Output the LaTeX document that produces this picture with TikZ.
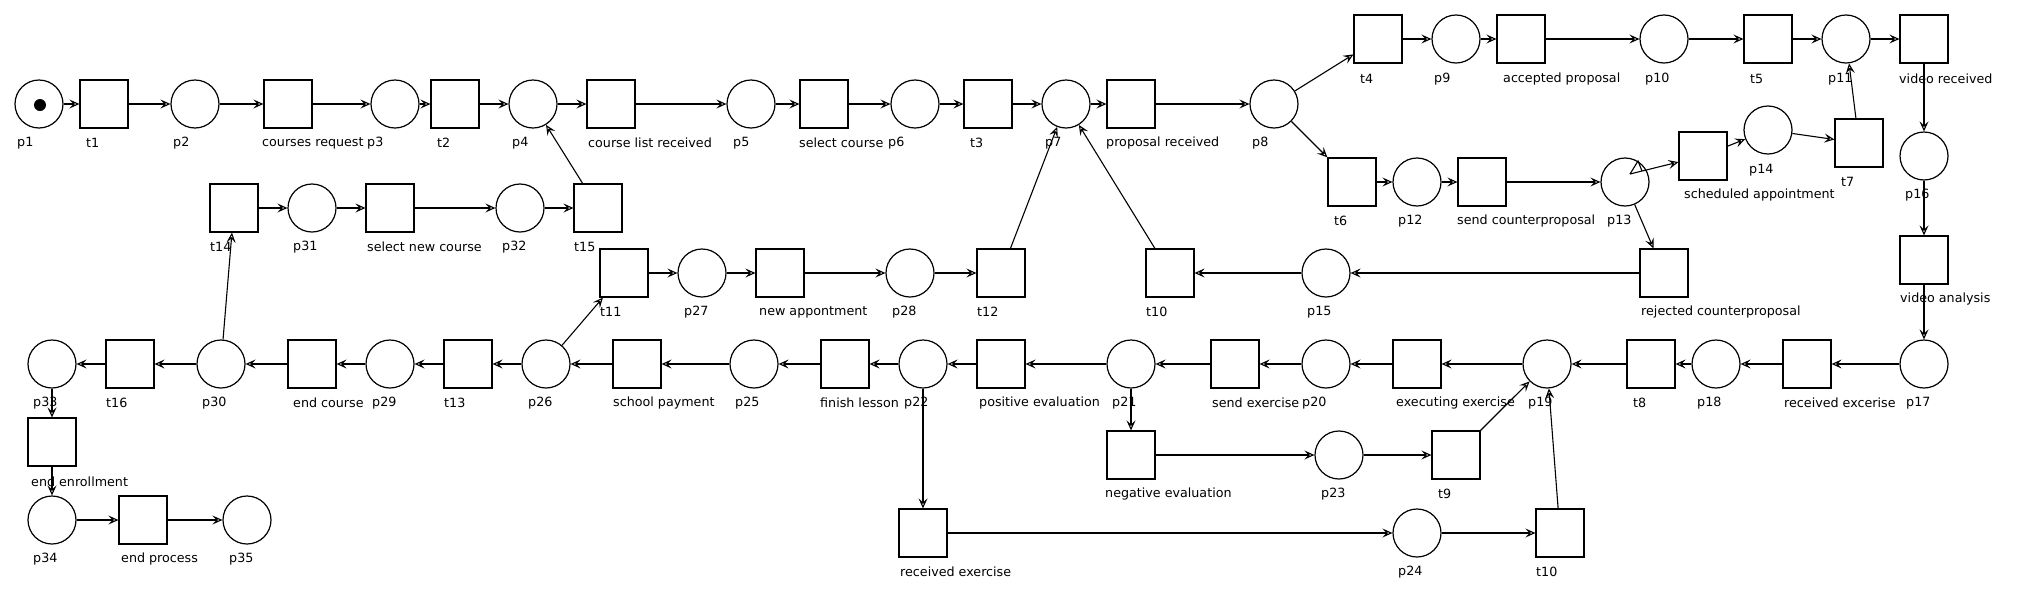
\documentclass[tikz,border=0pt]{standalone}
\usepackage{fontspec}
\setmainfont{DejaVu Sans}
\usetikzlibrary{arrows.meta}
\begin{document}
\begin{tikzpicture}[x=1pt,y=-1pt,
  pl/.style={circle, draw, minimum size=48pt, inner sep=0pt, line width=1.2pt},
  tr/.style={rectangle, draw, minimum size=48pt, inner sep=0pt, line width=1.2pt},
  lbl/.style={anchor=west, inner sep=0pt, font=\fontsize{12.7}{15}\selectfont},
  arc/.style={-{Stealth[open,length=10pt,width=9pt,inset=4pt]}, line width=1.1pt},
  tok/.style={circle, fill=black, minimum size=12pt, inner sep=0pt}]
\useasboundingbox (0,0) rectangle (2017,600);
% ---- row 1
\node[pl] (p1) at (39,104) {};
\node[tok] (tk) at (40,105) {};
\node[tr] (t1) at (104,104) {};
\node[pl] (p2) at (195,104) {};
\node[tr] (cr) at (288,104) {};
\node[pl] (p3) at (395,104) {};
\node[tr] (t2) at (455,104) {};
\node[pl] (p4) at (533,104) {};
\node[tr] (clr) at (611,104) {};
\node[pl] (p5) at (751,104) {};
\node[tr] (sc) at (824,104) {};
\node[pl] (p6) at (915,104) {};
\node[tr] (t3) at (988,104) {};
\node[pl] (p7) at (1066,104) {};
\node[tr] (pr) at (1131,104) {};
\node[pl] (p8) at (1274,104) {};
% ---- top row
\node[tr] (t4) at (1378,39) {};
\node[pl] (p9) at (1456,39) {};
\node[tr] (ap) at (1521,39) {};
\node[pl] (p10) at (1664,39) {};
\node[tr] (t5) at (1768,39) {};
\node[pl] (p11) at (1846,39) {};
\node[tr] (vr) at (1924,39) {};
% ---- counterproposal branch
\node[tr] (t6) at (1352,182) {};
\node[pl] (p12) at (1417,182) {};
\node[tr] (scp) at (1482,182) {};
\node[pl] (p13) at (1625,182) {};
\node[tr] (sa) at (1703,156) {};
\node[pl] (p14) at (1768,130) {};
\node[tr] (t7) at (1859,143) {};
\node[pl] (p16) at (1924,156) {};
\node[tr] (va) at (1924,260) {};
% ---- new course row
\node[tr] (t14) at (234,208) {};
\node[pl] (p31) at (312,208) {};
\node[tr] (snc) at (390,208) {};
\node[pl] (p32) at (520,208) {};
\node[tr] (t15) at (598,208) {};
% ---- row 3
\node[tr] (t11) at (624,273) {};
\node[pl] (p27) at (702,273) {};
\node[tr] (na) at (780,273) {};
\node[pl] (p28) at (910,273) {};
\node[tr] (t12) at (1001,273) {};
\node[tr] (t10a) at (1170,273) {};
\node[pl] (p15) at (1326,273) {};
\node[tr] (rc) at (1664,273) {};
% ---- row 4
\node[pl] (p33) at (52,364) {};
\node[tr] (t16) at (130,364) {};
\node[pl] (p30) at (221,364) {};
\node[tr] (ec) at (312,364) {};
\node[pl] (p29) at (390,364) {};
\node[tr] (t13) at (468,364) {};
\node[pl] (p26) at (546,364) {};
\node[tr] (spay) at (637,364) {};
\node[pl] (p25) at (754,364) {};
\node[tr] (fl) at (845,364) {};
\node[pl] (p22) at (923,364) {};
\node[tr] (pe) at (1001,364) {};
\node[pl] (p21) at (1131,364) {};
\node[tr] (se) at (1235,364) {};
\node[pl] (p20) at (1326,364) {};
\node[tr] (ee) at (1417,364) {};
\node[pl] (p19) at (1547,364) {};
\node[tr] (t8) at (1651,364) {};
\node[pl] (p18) at (1716,364) {};
\node[tr] (rex) at (1807,364) {};
\node[pl] (p17) at (1924,364) {};
% ---- end
\node[tr] (een) at (52,442) {};
\node[pl] (p34) at (52,520) {};
\node[tr] (ep) at (143,520) {};
\node[pl] (p35) at (247,520) {};
% ---- negative / received
\node[tr] (ne) at (1131,455) {};
\node[pl] (p23) at (1339,455) {};
\node[tr] (t9) at (1456,455) {};
\node[tr] (rexe) at (923,533) {};
\node[pl] (p24) at (1417,533) {};
\node[tr] (t10b) at (1560,533) {};
% ---- labels
\node[lbl] (lp1) at (17,143) {p1};
\node[lbl] (lt1) at (86,143) {t1};
\node[lbl] (lp2) at (173,143) {p2};
\node[lbl] (lcr) at (262,143) {courses request};
\node[lbl] (lp3) at (367,143) {p3};
\node[lbl] (lt2) at (437,143) {t2};
\node[lbl] (lp4) at (512,143) {p4};
\node[lbl] (lclr) at (588,143) {course list received};
\node[lbl] (lp5) at (733,143) {p5};
\node[lbl] (lsc) at (799,143) {select course};
\node[lbl] (lp6) at (888,143) {p6};
\node[lbl] (lt3) at (970,143) {t3};
\node[lbl] (lp7) at (1045,143) {p7};
\node[lbl] (lpr) at (1106,143) {proposal received};
\node[lbl] (lp8) at (1252,143) {p8};
\node[lbl] (lt4) at (1360,79) {t4};
\node[lbl] (lp9) at (1434,79) {p9};
\node[lbl] (lap) at (1503,79) {accepted proposal};
\node[lbl] (lp10) at (1645,79) {p10};
\node[lbl] (lt5) at (1750,79) {t5};
\node[lbl] (lp11) at (1828,79) {p11};
\node[lbl] (lvr) at (1899,79) {video received};
\node[lbl] (lt6) at (1334,221) {t6};
\node[lbl] (lp12) at (1398,221) {p12};
\node[lbl] (lscp) at (1457,221) {send counterproposal};
\node[lbl] (lp13) at (1607,221) {p13};
\node[lbl] (lsa) at (1684,195) {scheduled appointment};
\node[lbl] (lp14) at (1749,170) {p14};
\node[lbl] (lt7) at (1841,182) {t7};
\node[lbl] (lp16) at (1905,195) {p16};
\node[lbl] (lva) at (1900,299) {video analysis};
\node[lbl] (lt14) at (210,247) {t14};
\node[lbl] (lp31) at (293,247) {p31};
\node[lbl] (lsnc) at (367,247) {select new course};
\node[lbl] (lp32) at (502,247) {p32};
\node[lbl] (lt15) at (574,247) {t15};
\node[lbl] (lt11) at (600,312) {t11};
\node[lbl] (lp27) at (684,312) {p27};
\node[lbl] (lna) at (759,312) {new appontment};
\node[lbl] (lp28) at (892,312) {p28};
\node[lbl] (lt12) at (977,312) {t12};
\node[lbl] (lt10a) at (1146,312) {t10};
\node[lbl] (lp15) at (1307,312) {p15};
\node[lbl] (lrc) at (1641,312) {rejected counterproposal};
\node[lbl] (lp33) at (33,403) {p33};
\node[lbl] (lt16) at (106,403) {t16};
\node[lbl] (lp30) at (202,403) {p30};
\node[lbl] (lec) at (293,403) {end course};
\node[lbl] (lp29) at (372,403) {p29};
\node[lbl] (lt13) at (444,403) {t13};
\node[lbl] (lp26) at (528,403) {p26};
\node[lbl] (lspay) at (613,403) {school payment};
\node[lbl] (lp25) at (735,403) {p25};
\node[lbl] (lfl) at (820,403) {finish lesson};
\node[lbl] (lp22) at (904,403) {p22};
\node[lbl] (lpe) at (979,403) {positive evaluation};
\node[lbl] (lp21) at (1112,403) {p21};
\node[lbl] (lse) at (1212,403) {send exercise};
\node[lbl] (lp20) at (1302,403) {p20};
\node[lbl] (lee) at (1396,403) {executing exercise};
\node[lbl] (lp19) at (1528,403) {p19};
\node[lbl] (lt8) at (1633,403) {t8};
\node[lbl] (lp18) at (1697,403) {p18};
\node[lbl] (lrex) at (1784,403) {received excerise};
\node[lbl] (lp17) at (1906,403) {p17};
\node[lbl] (leen) at (31,482) {end enrollment};
\node[lbl] (lp34) at (33,559) {p34};
\node[lbl] (lep) at (121,559) {end process};
\node[lbl] (lp35) at (229,559) {p35};
\node[lbl] (lne) at (1105,494) {negative evaluation};
\node[lbl] (lp23) at (1321,494) {p23};
\node[lbl] (lt9) at (1438,494) {t9};
\node[lbl] (lrexe) at (900,572) {received exercise};
\node[lbl] (lp24) at (1398,572) {p24};
\node[lbl] (lt10b) at (1536,572) {t10};
% ---- arcs
\foreach \a/\b in {p1/t1, t1/p2, p2/cr, cr/p3, p3/t2, t2/p4, p4/clr, clr/p5, p5/sc, sc/p6, p6/t3, t3/p7, p7/pr, pr/p8,
  p8/t4, t4/p9, p9/ap, ap/p10, p10/t5, t5/p11, p11/vr, vr/p16, p16/va, va/p17,
  p8/t6, t6/p12, p12/scp, scp/p13, sa/p14, p14/t7, t7/p11, p13/rc,
  rc/p15, p15/t10a, t10a/p7, t11/p27, p27/na, na/p28, p28/t12, t12/p7,
  p17/rex, rex/p18, p18/t8, t8/p19, p19/ee, ee/p20, p20/se, se/p21, p21/pe, pe/p22, p22/fl, fl/p25, p25/spay, spay/p26,
  p26/t13, t13/p29, p29/ec, ec/p30, p30/t16, t16/p33, p33/een, een/p34, p34/ep, ep/p35,
  p26/t11, p30/t14, t14/p31, p31/snc, snc/p32, p32/t15, t15/p4,
  p21/ne, ne/p23, p23/t9, t9/p19, p22/rexe, rexe/p24, p24/t10b, t10b/p19}
  \draw[arc] (\a) -- (\b);
% odd arc from inside p13 to scheduled appointment
\coordinate (c13) at (1630,174);
\draw[arc] (c13) -- (sa);
\draw[line width=1.1pt] (c13) -- (1638,161) -- (1642,171);
\end{tikzpicture}
\end{document}
